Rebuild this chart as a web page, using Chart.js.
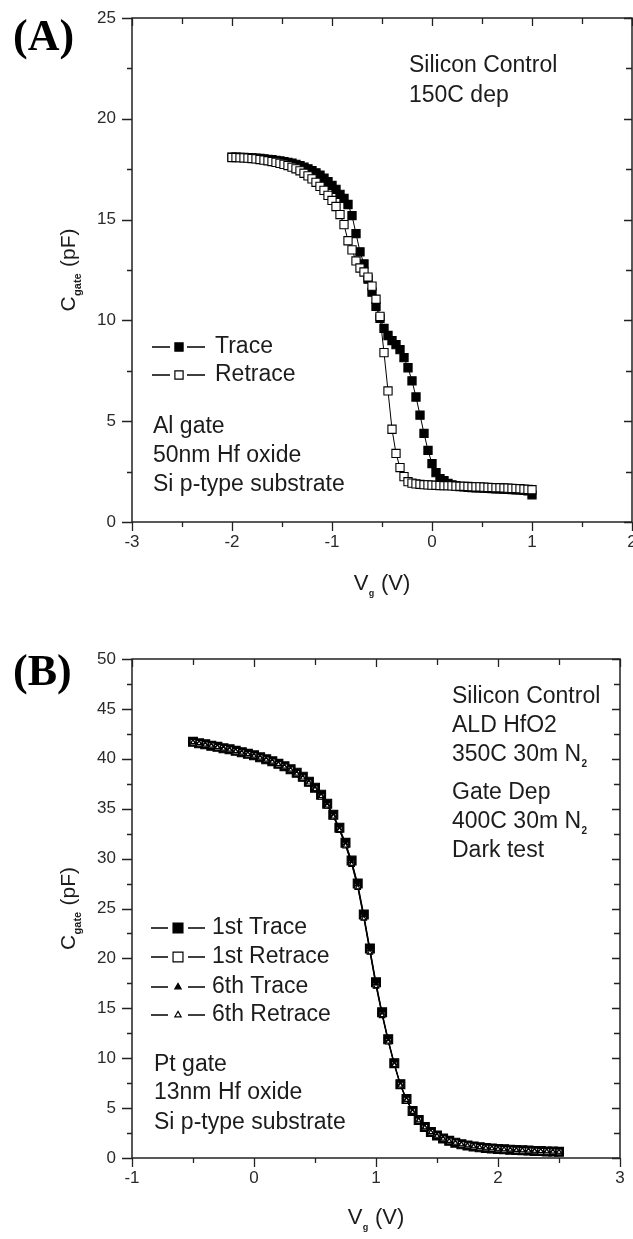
<!DOCTYPE html>
<html><head><meta charset="utf-8">
<script src="https://cdn.jsdelivr.net/npm/chart.js@4.4.0/dist/chart.umd.min.js"></script>
<style>
html,body{margin:0;padding:0;background:#fff;width:633px;height:1239px;overflow:hidden;}
.panel{position:absolute;left:0;width:633px;}
#wa{top:0;height:620px;} #wb{top:620px;height:619px;}
canvas{display:block;}
</style></head><body>
<div class="panel" id="wa"><canvas id="ca" width="633" height="620"></canvas></div>
<div class="panel" id="wb"><canvas id="cb" width="633" height="619"></canvas></div>
<script>
// ---------------- Panel A data ----------------
const voltsA = [-2.00,-1.96,-1.92,-1.88,-1.84,-1.80,-1.76,-1.72,-1.68,-1.64,
  -1.60,-1.56,-1.52,-1.48,-1.44,-1.40,-1.36,-1.32,-1.28,-1.24,
  -1.20,-1.16,-1.12,-1.08,-1.04,-1.00,-0.96,-0.92,-0.88,-0.84,
  -0.80,-0.76,-0.72,-0.68,-0.64,-0.60,-0.56,-0.52,-0.48,-0.44,
  -0.40,-0.36,-0.32,-0.28,-0.24,-0.20,-0.16,-0.12,-0.08,-0.04,
  0.00,0.04,0.08,0.12,0.16,0.20,0.24,0.28,0.32,0.36,
  0.40,0.44,0.48,0.52,0.56,0.60,0.64,0.68,0.72,0.76,
  0.80,0.84,0.88,0.92,0.96,1.00];
const traceA = [18.10,18.10,18.09,18.08,18.07,18.06,18.05,18.03,18.01,17.99,
  17.97,17.94,17.91,17.88,17.84,17.80,17.74,17.68,17.60,17.52,
  17.43,17.32,17.20,17.05,16.88,16.70,16.50,16.25,16.05,15.75,
  15.20,14.30,13.40,12.80,12.05,11.40,10.70,10.10,9.60,9.25,
  9.00,8.80,8.55,8.15,7.65,7.00,6.20,5.30,4.40,3.55,
  2.90,2.45,2.15,2.05,1.92,1.84,1.79,1.76,1.74,1.72,
  1.71,1.70,1.69,1.68,1.67,1.66,1.65,1.64,1.63,1.62,
  1.61,1.60,1.59,1.57,1.54,1.35];
const retraceA = [18.08,18.08,18.07,18.06,18.05,18.03,18.01,17.98,17.95,17.92,
  17.88,17.84,17.79,17.74,17.68,17.60,17.52,17.42,17.30,17.17,
  17.02,16.85,16.65,16.45,16.20,15.95,15.65,15.25,14.75,13.95,
  13.50,12.95,12.60,12.40,12.15,11.70,11.05,10.20,8.40,6.50,
  4.60,3.40,2.70,2.25,2.00,1.93,1.89,1.87,1.85,1.84,
  1.83,1.82,1.81,1.80,1.80,1.79,1.78,1.77,1.77,1.76,
  1.75,1.74,1.74,1.73,1.72,1.71,1.70,1.70,1.69,1.68,
  1.67,1.66,1.65,1.63,1.62,1.60];
const seriesNamesA = ['Trace','Retrace'];
const noteTopA = ['Silicon Control','150C dep'];
const noteBottomA = ['Al gate','50nm Hf oxide','Si p-type substrate'];

// ---------------- Panel B data ----------------
const voltsB = [-0.50,-0.45,-0.40,-0.35,-0.30,-0.25,-0.20,-0.15,-0.10,-0.05,
  0.00,0.05,0.10,0.15,0.20,0.25,0.30,0.35,0.40,0.45,
  0.50,0.55,0.60,0.65,0.70,0.75,0.80,0.85,0.90,0.95,
  1.00,1.05,1.10,1.15,1.20,1.25,1.30,1.35,1.40,1.45,
  1.50,1.55,1.60,1.65,1.70,1.75,1.80,1.85,1.90,1.95,
  2.00,2.05,2.10,2.15,2.20,2.25,2.30,2.35,2.40,2.45,2.50];
const trace1B = [41.70,41.55,41.45,41.30,41.20,41.05,40.95,40.80,40.65,40.50,
  40.35,40.15,39.95,39.75,39.50,39.25,38.95,38.60,38.20,37.70,
  37.10,36.40,35.50,34.40,33.10,31.60,29.80,27.50,24.40,21.00,
  17.60,14.60,11.90,9.50,7.40,5.90,4.70,3.80,3.10,2.60,
  2.25,1.95,1.72,1.53,1.38,1.26,1.16,1.08,1.01,0.96,
  0.91,0.87,0.83,0.80,0.77,0.74,0.71,0.69,0.66,0.64,0.62];
const retrace1B = [41.65,41.55,41.40,41.30,41.15,41.05,40.90,40.75,40.60,40.45,
  40.30,40.10,39.90,39.70,39.45,39.20,38.90,38.55,38.10,37.60,
  37.00,36.25,35.35,34.25,32.90,31.35,29.50,27.20,24.10,20.70,
  17.30,14.35,11.70,9.35,7.30,5.80,4.65,3.75,3.08,2.58,
  2.22,1.93,1.70,1.52,1.37,1.25,1.15,1.07,1.00,0.95,
  0.90,0.86,0.82,0.79,0.76,0.73,0.71,0.68,0.66,0.63,0.61];
const trace6B = [41.70,41.60,41.45,41.35,41.20,41.10,40.95,40.80,40.65,40.50,
  40.35,40.15,39.95,39.75,39.50,39.25,38.95,38.60,38.15,37.65,
  37.05,36.35,35.45,34.35,33.00,31.50,29.70,27.40,24.30,20.90,
  17.50,14.50,11.80,9.45,7.40,5.90,4.70,3.80,3.10,2.60,
  2.24,1.95,1.72,1.53,1.38,1.26,1.16,1.08,1.01,0.96,
  0.91,0.87,0.83,0.80,0.77,0.74,0.71,0.69,0.66,0.64,0.62];
const retrace6B = [41.65,41.55,41.40,41.30,41.15,41.00,40.90,40.75,40.60,40.45,
  40.30,40.10,39.90,39.70,39.45,39.20,38.90,38.50,38.10,37.60,
  36.95,36.25,35.30,34.20,32.85,31.30,29.45,27.10,24.00,20.60,
  17.20,14.30,11.65,9.30,7.25,5.80,4.60,3.75,3.05,2.57,
  2.21,1.93,1.70,1.51,1.36,1.25,1.15,1.07,1.00,0.95,
  0.90,0.86,0.82,0.79,0.76,0.73,0.70,0.68,0.65,0.63,0.61];
const seriesNamesB = ['1st Trace','1st Retrace','6th Trace','6th Retrace'];
const noteTopB = ['Silicon Control','ALD HfO2','350C 30m N_2','Gate Dep','400C 30m N_2','Dark test'];
const noteBottomB = ['Pt gate','13nm Hf oxide','Si p-type substrate'];

const xTitle = 'V_g (V)';
const yTitle = 'C_{gate} (pF)';

// ---------------- helpers ----------------
const FONT = "'Liberation Sans', Arial, Helvetica, sans-serif";
const INK = '#1c1c1c';
Chart.defaults.font.family = FONT;
Chart.defaults.color = INK;

function parseRich(s){
  const out=[]; const re=/_\{([^}]*)\}|_(.)/g; let last=0,m;
  while((m=re.exec(s))){
    if(m.index>last) out.push({t:s.slice(last,m.index),sub:false});
    out.push({t:m[1]||m[2],sub:true}); last=re.lastIndex;
  }
  if(last<s.length) out.push({t:s.slice(last),sub:false});
  return out;
}
function drawRich(ctx, s, x, y, o){
  const size=o.size||23, subSize=o.subSize||10, subDy=o.subDy||8;
  const parts=parseRich(s);
  const fNorm=`${size}px ${FONT}`, fSub=`bold ${subSize}px ${FONT}`;
  let w=0;
  parts.forEach(p=>{ctx.font=p.sub?fSub:fNorm; p.w=ctx.measureText(p.t).width+(p.sub?1:0); w+=p.w;});
  ctx.save();
  ctx.translate(x,y);
  if(o.rotate) ctx.rotate(o.rotate);
  let cx = o.align==='center' ? -w/2 : 0;
  ctx.fillStyle=INK; ctx.textBaseline='middle'; ctx.textAlign='left';
  parts.forEach(p=>{
    ctx.font=p.sub?fSub:fNorm;
    ctx.fillText(p.t,cx+(p.sub?0.5:0),p.sub?subDy:0);
    cx+=p.w;
  });
  ctx.restore();
}
function drawMarker(ctx, style, fill, r, x, y){
  ctx.save();
  ctx.beginPath();
  if(style==='rect'){
    const s=Math.SQRT1_2*r; ctx.rect(x-s,y-s,2*s,2*s);
  } else {
    for(let k=0;k<3;k++){
      const a=k*2*Math.PI/3;
      const px=x+Math.sin(a)*r, py=y-Math.cos(a)*r;
      if(k===0) ctx.moveTo(px,py); else ctx.lineTo(px,py);
    }
    ctx.closePath();
  }
  ctx.fillStyle=fill; ctx.fill();
  ctx.strokeStyle='#000'; ctx.lineWidth=1.2; ctx.stroke();
  ctx.restore();
}

const framePlugin = {
  id:'frameTicks',
  afterDraw(chart, args, o){
    const {ctx, chartArea:a, scales:{x,y}} = chart;
    ctx.save();
    ctx.strokeStyle='#222'; ctx.lineWidth=1.5;
    ctx.strokeRect(a.left,a.top,a.right-a.left,a.bottom-a.top);
    ctx.lineWidth=1.3;
    const isMajor=(v,step)=>Math.abs(v/step-Math.round(v/step))<1e-6;
    ctx.beginPath();
    for(let v=x.min; v<=x.max+1e-9; v+=o.xMinor){
      const px=Math.round(x.getPixelForValue(v))+0.5; const M=isMajor(v,o.xMajor);
      ctx.moveTo(px,a.bottom); ctx.lineTo(px,a.bottom+(M?9:5));
      ctx.moveTo(px,a.top); ctx.lineTo(px,a.top+(M?8:6));
    }
    for(let v=y.min; v<=y.max+1e-9; v+=o.yMinor){
      const py=Math.round(y.getPixelForValue(v))+0.5; const M=isMajor(v,o.yMajor);
      ctx.moveTo(a.left,py); ctx.lineTo(a.left-(M?10:5),py);
      ctx.moveTo(a.right,py); ctx.lineTo(a.right-(M?8:6),py);
    }
    ctx.stroke();
    ctx.restore();
  }
};

const textPlugin = {
  id:'texts',
  afterDraw(chart, args, o){
    const ctx=chart.ctx;
    ctx.save();
    ctx.font=`bold 44px 'Liberation Serif', 'Times New Roman', serif`;
    ctx.fillStyle='#000'; ctx.textBaseline='middle'; ctx.textAlign='left';
    ctx.fillText(o.panel, 13, o.panelY);
    ctx.restore();
    o.notes.forEach(n=>{
      n.lines.forEach((t,i)=>drawRich(ctx,t,n.x,n.ys[i],{size:23,subSize:10,subDy:9}));
    });
    const L=o.legend;
    chart.data.datasets.forEach((ds,i)=>{
      const yy=L.ys[i];
      ctx.save(); ctx.strokeStyle='#000'; ctx.lineWidth=1.3;
      ctx.beginPath();
      ctx.moveTo(L.x1,yy); ctx.lineTo(L.mx-L.gapL,yy);
      ctx.moveTo(L.mx+L.gapR,yy); ctx.lineTo(L.x2,yy);
      ctx.stroke(); ctx.restore();
      drawMarker(ctx, ds.pointStyle, ds.pointBackgroundColor, ds.legendR, L.mx, yy);
      drawRich(ctx, ds.label, L.tx, yy, {size:23});
    });
    const a=chart.chartArea;
    drawRich(ctx, xTitle, (a.left+a.right)/2, o.xTitleY, {size:22,subSize:9,subDy:10,align:'center'});
    drawRich(ctx, yTitle, o.yTitleX, (a.top+a.bottom)/2, {size:21,subSize:11,subDy:9,align:'center',rotate:-Math.PI/2});
  }
};

function makeChart(id, c){
  return new Chart(document.getElementById(id), {
    type:'scatter',
    data:{datasets:c.datasets},
    options:{
      responsive:false, animation:false, events:[],
      layout:{autoPadding:false, padding:{top:c.padTop,right:c.padRight,left:0,bottom:0}},
      plugins:{legend:{display:false}, tooltip:{enabled:false},
        frameTicks:c.ticks, texts:c.texts},
      scales:{
        x:{type:'linear', min:c.xMin, max:c.xMax,
           ticks:{stepSize:c.ticks.xMajor, autoSkip:false, maxRotation:0, padding:10, font:{size:17}, color:'#2a2a2a'},
           grid:{display:false, drawTicks:false}, border:{display:false},
           afterFit(s){ s.height=c.xAxisH; s.paddingLeft=0; s.paddingRight=0; }},
        y:{type:'linear', min:c.yMin, max:c.yMax,
           ticks:{stepSize:c.ticks.yMajor, autoSkip:false, padding:16, font:{size:17}, color:'#2a2a2a'},
           grid:{display:false, drawTicks:false}, border:{display:false},
           afterFit(s){ s.width=132; s.paddingTop=0; s.paddingBottom=0; }}
      }
    },
    plugins:[framePlugin, textPlugin]
  });
}
const pts=(xs,ys)=>xs.map((v,i)=>({x:v,y:ys[i]}));
const dsStyle=(label,data,style,fill,r,order,legendR)=>({label,data,showLine:true,borderColor:'#000',borderWidth:1,
  pointStyle:style,pointRadius:r,pointBackgroundColor:fill,pointBorderColor:'#000',pointBorderWidth:1.1,order,legendR,clip:false});

makeChart('ca',{
  datasets:[
    dsStyle(seriesNamesA[0], pts(voltsA,traceA), 'rect', '#000', 5.8, 1, 5.8),
    dsStyle(seriesNamesA[1], pts(voltsA,retraceA), 'rect', '#fff', 5.8, 0, 5.8)
  ],
  padTop:18, padRight:1, xAxisH:98, xMin:-3, xMax:2, yMin:0, yMax:25,
  ticks:{xMajor:1,xMinor:0.5,yMajor:5,yMinor:2.5},
  texts:{panel:'(A)', panelY:39,
    notes:[{lines:noteTopA,x:409,ys:[66,96]},{lines:noteBottomA,x:153,ys:[427,456,485]}],
    legend:{x1:152,x2:205,mx:179,gapL:9,gapR:8,tx:215,ys:[347,375]},
    xTitleY:584, yTitleX:69}
});

makeChart('cb',{
  datasets:[
    dsStyle(seriesNamesB[0], pts(voltsB,trace1B), 'rect', '#000', 6.3, 3, 7),
    dsStyle(seriesNamesB[1], pts(voltsB,retrace1B), 'rect', '#fff', 4.0, 2, 7),
    dsStyle(seriesNamesB[2], pts(voltsB,trace6B), 'triangle', '#000', 2.6, 1, 3.6),
    dsStyle(seriesNamesB[3], pts(voltsB,retrace6B), 'triangle', '#fff', 2.6, 0, 3.6)
  ],
  padTop:39, padRight:13, xAxisH:81, xMin:-1, xMax:3, yMin:0, yMax:50,
  ticks:{xMajor:1,xMinor:0.5,yMajor:5,yMinor:2.5},
  texts:{panel:'(B)', panelY:54,
    notes:[{lines:noteTopB,x:452,ys:[77,106,135,173,202,231]},{lines:noteBottomB,x:154,ys:[445,473,503]}],
    legend:{x1:151,x2:205,mx:178,gapL:10,gapR:10,tx:212,ys:[308,337,367,395]},
    xTitleY:598, yTitleX:69}
});
</script>
</body></html>
